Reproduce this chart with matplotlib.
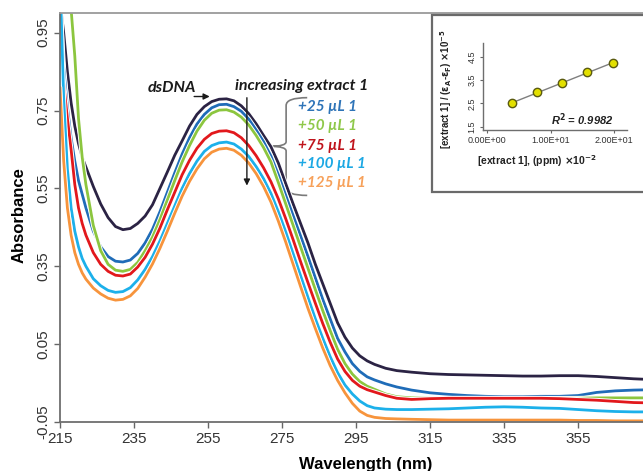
import numpy as np
import matplotlib
matplotlib.use("Agg")
import matplotlib.pyplot as plt
from matplotlib.patches import Rectangle, PathPatch
from matplotlib.path import Path
import matplotlib.patheffects as pe

# wavelength grid (nm) and absorbance of each titration step
wl = [215, 216, 217, 218, 219, 220, 221, 222, 224, 226, 228, 230, 232, 234, 236, 238,
      240, 242, 244, 246, 248, 250, 252, 254, 256, 258, 260, 262, 264, 266, 268, 270,
      272, 274, 276, 278, 280, 282, 284, 286, 288, 290, 292, 294, 296, 298, 300, 303,
      306, 310, 315, 320, 325, 330, 335, 340, 345, 350, 355, 360, 365, 370, 375]

ds_dna = [1.03, 0.95, 0.85, 0.77, 0.71, 0.665, 0.63, 0.605, 0.555, 0.51, 0.475, 0.452, 0.444, 0.447, 0.46, 0.479,
          0.508, 0.55, 0.592, 0.635, 0.672, 0.71, 0.74, 0.76, 0.773, 0.779, 0.78, 0.775, 0.762, 0.742, 0.716, 0.686,
          0.657, 0.615, 0.562, 0.51, 0.46, 0.41, 0.355, 0.305, 0.255, 0.205, 0.168, 0.14, 0.12, 0.107, 0.098, 0.088,
          0.082, 0.078, 0.074, 0.072, 0.071, 0.07, 0.069, 0.068, 0.068, 0.069, 0.069, 0.067, 0.064, 0.061, 0.059]

add_25 = [1.02, 0.86, 0.76, 0.68, 0.62, 0.57, 0.535, 0.5, 0.44, 0.4, 0.375, 0.363, 0.361, 0.366, 0.383, 0.41,
          0.445, 0.49, 0.54, 0.59, 0.638, 0.68, 0.715, 0.74, 0.757, 0.765, 0.766, 0.76, 0.748, 0.728, 0.7, 0.67,
          0.633, 0.585, 0.532, 0.48, 0.428, 0.375, 0.32, 0.265, 0.215, 0.165, 0.13, 0.1, 0.08, 0.066, 0.058, 0.048,
          0.04, 0.032, 0.025, 0.021, 0.018, 0.016, 0.015, 0.015, 0.016, 0.016, 0.018, 0.026, 0.03, 0.032, 0.033]

add_50 = [1.2, 1.13, 1.07, 1.01, 0.89, 0.73, 0.63, 0.56, 0.455, 0.39, 0.355, 0.34, 0.337, 0.342, 0.36, 0.39,
          0.425, 0.47, 0.52, 0.57, 0.618, 0.66, 0.697, 0.725, 0.743, 0.751, 0.752, 0.746, 0.733, 0.713, 0.686, 0.655,
          0.618, 0.565, 0.51, 0.455, 0.4, 0.345, 0.29, 0.236, 0.185, 0.137, 0.1, 0.073, 0.054, 0.042, 0.034, 0.022,
          0.015, 0.012, 0.011, 0.011, 0.011, 0.011, 0.011, 0.011, 0.011, 0.011, 0.011, 0.012, 0.012, 0.012, 0.012]

add_75 = [0.92, 0.82, 0.73, 0.65, 0.56, 0.5, 0.46, 0.43, 0.385, 0.355, 0.337, 0.327, 0.325, 0.33, 0.348, 0.373,
          0.407, 0.448, 0.495, 0.54, 0.585, 0.622, 0.653, 0.676, 0.691, 0.697, 0.698, 0.693, 0.68, 0.66, 0.634, 0.603,
          0.567, 0.523, 0.472, 0.418, 0.362, 0.308, 0.255, 0.203, 0.155, 0.112, 0.08, 0.057, 0.042, 0.033, 0.027, 0.018,
          0.011, 0.008, 0.01, 0.011, 0.011, 0.011, 0.011, 0.011, 0.011, 0.01, 0.008, 0.006, 0.003, 0.0, -0.001]

add_100 = [1.1, 0.78, 0.6, 0.5, 0.44, 0.4, 0.37, 0.35, 0.318, 0.3, 0.288, 0.283, 0.285, 0.295, 0.315, 0.342,
           0.375, 0.415, 0.46, 0.505, 0.55, 0.588, 0.62, 0.645, 0.66, 0.667, 0.669, 0.664, 0.651, 0.632, 0.606, 0.575,
           0.537, 0.49, 0.438, 0.382, 0.326, 0.27, 0.215, 0.165, 0.118, 0.077, 0.045, 0.022, 0.004, -0.008, -0.014, -0.017,
           -0.018, -0.018, -0.017, -0.016, -0.014, -0.012, -0.011, -0.012, -0.014, -0.015, -0.018, -0.021, -0.023, -0.024, -0.024]

add_125 = [0.81, 0.62, 0.5, 0.43, 0.385, 0.355, 0.333, 0.317, 0.294, 0.279, 0.268, 0.263, 0.265, 0.274, 0.293, 0.322,
           0.356, 0.396, 0.44, 0.486, 0.53, 0.568, 0.6, 0.626, 0.643, 0.651, 0.653, 0.648, 0.635, 0.615, 0.588, 0.555,
           0.515, 0.466, 0.412, 0.355, 0.298, 0.242, 0.19, 0.14, 0.095, 0.057, 0.025, -0.002, -0.022, -0.033, -0.038, -0.041,
           -0.042, -0.043, -0.044, -0.045, -0.045, -0.045, -0.045, -0.045, -0.045, -0.045, -0.046, -0.046, -0.047, -0.047, -0.047]

series = [ds_dna, add_25, add_50, add_75, add_100, add_125]
line_colors = ["#2b2344", "#1f6cb8", "#8cc63f", "#e2181c", "#1cb0ea", "#f7943c"]
step_labels = ["+25 µL 1", "+50 µL 1", "+75 µL 1", "+100 µL 1", "+125 µL 1"]
label_colors = ["#2e74b8", "#8fc84a", "#c0141c", "#1ca8e4", "#f7a15a"]

y_ticks = [-0.05, 0.15, 0.35, 0.55, 0.75, 0.95]
y_tick_labels = ["-0.05", "0.05", "0.35", "0.55", "0.75", "0.95"]
x_ticks = [215, 235, 255, 275, 295, 315, 335, 355]

# inset: binding plot
conc = [3.9, 7.8, 11.8, 15.8, 19.8]
ratio = [2.50, 2.97, 3.36, 3.84, 4.24]
r_squared = 0.9982

plt.rcParams['mathtext.default'] = 'bf'
fig = plt.figure(figsize=(6.43, 4.71), dpi=100)
ax = fig.add_axes([0.0933, 0.104, 0.952, 0.868])

for vals, col in zip(series, line_colors):
    ax.plot(wl, vals, color=col, lw=2.0, solid_capstyle='round',
            path_effects=[pe.Stroke(linewidth=3.4, foreground='white'), pe.Normal()])

ax.set_xlim(215, 380.4)
ax.set_ylim(-0.05, 1.0)
ax.set_xticks(x_ticks)
ax.set_yticks(y_ticks)
ax.set_yticklabels(y_tick_labels)
ax.tick_params(direction='out', length=4, width=1, color='#666666', labelsize=11,
               labelcolor='#333333', pad=3)
for t in ax.get_xticklabels() + ax.get_yticklabels():
    t.set_family('Liberation Sans')
for t in ax.get_yticklabels():
    t.set_rotation(90)
    t.set_va('center')
for side in ['left', 'bottom']:
    ax.spines[side].set_color('#6e6e6e')
    ax.spines[side].set_linewidth(1.3)
ax.spines['top'].set_color('#9a9a9a')
ax.spines['top'].set_linewidth(1.3)
ax.spines['right'].set_visible(False)

ax.set_ylabel("Absorbance", fontsize=12, fontweight='bold', family='Liberation Sans')
ax.yaxis.set_label_coords(-0.054, 0.505)
ax.set_xlabel("Wavelength (nm)", fontsize=12, fontweight='bold', family='Liberation Sans')
ax.xaxis.set_label_coords(0.5, -0.085)

anno_font = dict(family=['Lato', 'DejaVu Sans'], fontweight='bold', style='italic')
ax.text(245.3, 0.809, "dsDNA", fontsize=11.5, ha='center', va='center', color='#1a1a1a', **anno_font)
ax.annotate("", xy=(256.2, 0.786), xytext=(250.5, 0.786),
            arrowprops=dict(arrowstyle='-|>', color='#1a1a1a', lw=1.0, mutation_scale=9))
ax.text(280.4, 0.814, "increasing extract 1", fontsize=11.5, ha='center', va='center',
        color='#1a1a1a', **anno_font)
ax.annotate("", xy=(265.5, 0.55), xytext=(265.5, 0.79),
            arrowprops=dict(arrowstyle='-|>', color='#1a1a1a', lw=1.0, mutation_scale=9))

# curly brace grouping the step labels
bx_end, bx_mid, bx_tip = 281.8, 276.1, 271.8
by_top, by_tip, by_bot = 0.783, 0.658, 0.532
verts = [(bx_end, by_top), (bx_mid, by_top), (bx_mid, by_top - 0.02),
         (bx_mid, by_tip + 0.012), (bx_mid, by_tip), (bx_tip, by_tip),
         (bx_mid, by_tip), (bx_mid, by_tip - 0.012),
         (bx_mid, by_bot + 0.02), (bx_mid, by_bot), (bx_end, by_bot)]
codes = [Path.MOVETO, Path.CURVE3, Path.CURVE3, Path.LINETO, Path.CURVE3, Path.CURVE3,
         Path.CURVE3, Path.CURVE3, Path.LINETO, Path.CURVE3, Path.CURVE3]
ax.add_patch(PathPatch(Path(verts, codes), fill=False, edgecolor='#7a7a7a', lw=1.2))

label_y = [0.758, 0.709, 0.660, 0.612, 0.563]
for txt, col, yy in zip(step_labels, label_colors, label_y):
    ax.text(279.3, yy, txt, fontsize=11, ha='left', va='center', color=col, **anno_font)

# framed inset box
fig.add_artist(Rectangle((0.6726, 0.593), 0.40, 0.375, transform=fig.transFigure,
                         facecolor='white', edgecolor='#6a6a6a', lw=1.6, zorder=2))

ins = fig.add_axes([0.7512, 0.724, 0.2239, 0.1847])
ins.set_zorder(3)
ins.patch.set_alpha(0)
fit = np.polyfit(conc, ratio, 1)
ins.plot([conc[0], conc[-1]], np.polyval(fit, [conc[0], conc[-1]]), color='#7f7f7f', lw=1.0)
ins.plot(conc, ratio, 'o', ms=6, mfc='#e3e000', mec='#5a5a10', mew=1.0)
ins.set_xlim(-0.6, 22.0)
ins.set_ylim(1.35, 5.1)
ins.set_xticks([0, 10, 20])
ins.set_xticklabels(["0.00E+00", "1.00E+01", "2.00E+01"])
ins.set_yticks([1.5, 2.5, 3.5, 4.5])
ins.set_yticklabels(["1.5", "2.5", "3.5", "4.5"])
ins.tick_params(direction='out', length=2.5, width=0.8, color='#666666', labelsize=6.5,
                labelcolor='#333333', pad=2)
for t in ins.get_xticklabels() + ins.get_yticklabels():
    t.set_family('Liberation Sans')
for t in ins.get_yticklabels():
    t.set_rotation(90)
    t.set_va('center')
for side in ['top', 'right']:
    ins.spines[side].set_visible(False)
for side in ['left', 'bottom']:
    ins.spines[side].set_color('#6e6e6e')
    ins.spines[side].set_linewidth(1.0)

ins.set_ylabel(r"[extract 1] / ($\epsilon_A$-$\epsilon_F$) $\times$10$^{-5}$", fontsize=7,
               fontweight='bold', family='Liberation Sans', color='#222222')
ins.yaxis.set_label_coords(-0.205, 0.47)
ins.set_xlabel(r"[extract 1], (ppm) $\times$10$^{-2}$", fontsize=7.5, fontweight='bold',
               family='Liberation Sans', color='#222222')
ins.xaxis.set_label_coords(0.375, -0.27)
ins.text(0.69, 0.115, "R$^{2}$ = %.4f" % r_squared, transform=ins.transAxes, fontsize=8,
         fontweight='bold', style='italic', family='Liberation Sans', ha='center', va='center',
         color='#222222')

fig.savefig("out.png", dpi=100)
